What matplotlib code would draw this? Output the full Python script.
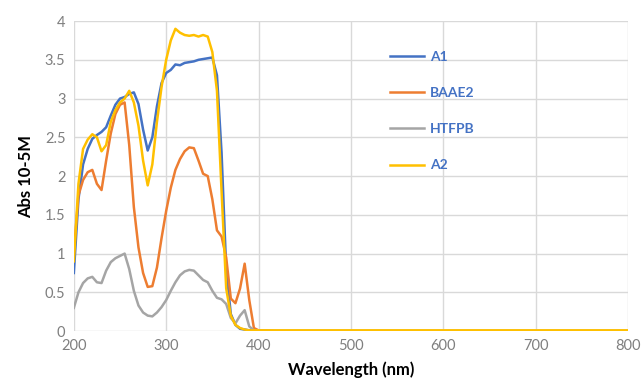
import matplotlib
matplotlib.use("Agg")
import matplotlib.pyplot as plt

plt.rcParams['font.family'] = ['Lato', 'DejaVu Sans']

# wavelength grid (nm)
wl = [200, 205, 210, 215, 220, 225, 230, 235, 240, 245,
      250, 255, 260, 265, 270, 275, 280, 285, 290, 295,
      300, 305, 310, 315, 320, 325, 330, 335, 340, 345,
      350, 355, 360, 365, 370, 375, 380, 385, 390, 395,
      400, 420, 500, 600, 700, 800]

a1 = [0.75, 1.7, 2.15, 2.35, 2.48, 2.53, 2.57, 2.63, 2.78, 2.92,
      3.0, 3.02, 3.06, 3.08, 2.93, 2.6, 2.33, 2.5, 2.9, 3.2,
      3.33, 3.37, 3.44, 3.43, 3.46, 3.47, 3.48, 3.5, 3.51, 3.52,
      3.53, 3.3, 2.3, 0.8, 0.22, 0.08, 0.03, 0.02, 0.01, 0.01,
      0.0, 0.0, 0.0, 0.0, 0.0, 0.0]

baae2 = [1.0, 1.75, 1.95, 2.05, 2.08, 1.9, 1.82, 2.2, 2.55, 2.8,
         2.92, 2.95, 2.4, 1.6, 1.08, 0.75, 0.57, 0.58, 0.82, 1.2,
         1.55, 1.85, 2.08, 2.22, 2.32, 2.37, 2.36, 2.2, 2.03, 2.0,
         1.7, 1.3, 1.22, 0.95, 0.42, 0.36, 0.55, 0.87, 0.4, 0.04,
         0.01, 0.0, 0.0, 0.0, 0.0, 0.0]

htfpb = [0.3, 0.5, 0.62, 0.68, 0.7, 0.63, 0.62, 0.78, 0.89, 0.94,
         0.97, 1.0, 0.8, 0.52, 0.33, 0.24, 0.2, 0.19, 0.24, 0.31,
         0.4, 0.52, 0.63, 0.72, 0.77, 0.79, 0.78, 0.72, 0.66, 0.63,
         0.52, 0.43, 0.41, 0.35, 0.17, 0.1, 0.2, 0.27, 0.06, 0.01,
         0.01, 0.0, 0.0, 0.0, 0.0, 0.0]

a2 = [0.9, 1.9, 2.35, 2.47, 2.54, 2.5, 2.32, 2.4, 2.7, 2.85,
      2.95, 3.0, 3.1, 2.95, 2.65, 2.2, 1.88, 2.15, 2.7, 3.15,
      3.5, 3.75, 3.9, 3.85, 3.82, 3.81, 3.82, 3.8, 3.82, 3.8,
      3.6, 3.1, 1.8, 0.55, 0.2, 0.08, 0.04, 0.02, 0.01, 0.01,
      0.01, 0.01, 0.01, 0.01, 0.01, 0.01]

series = [("A1", a1, "#4472C4"),
          ("BAAE2", baae2, "#ED7D31"),
          ("HTFPB", htfpb, "#A5A5A5"),
          ("A2", a2, "#FFC000")]

yticks = [0, 0.5, 1, 1.5, 2, 2.5, 3, 3.5, 4]
ytick_labels = ["0", "0.5", "1", "1.5", "2", "2.5", "3", "3.5", "4"]
xticks = [200, 300, 400, 500, 600, 700, 800]

fig = plt.figure(figsize=(6.42, 3.9), dpi=100)
ax = fig.add_axes([0.115, 0.151, 0.863, 0.795])

for name, vals, col in series:
    ax.plot(wl, vals, color=col, lw=1.8, label=name, solid_joinstyle="round")

ax.set_xlim(200, 800)
ax.set_ylim(0, 4)
ax.set_xticks(xticks)
ax.set_yticks(yticks)
ax.set_yticklabels(ytick_labels)
ax.grid(True, color="#D9D9D9", lw=1)
ax.set_axisbelow(True)
for s in ax.spines.values():
    s.set_visible(False)
ax.tick_params(length=0, labelsize=10.5, colors="#7F7F7F", pad=6)

ax.set_xlabel("Wavelength (nm)", fontsize=12, fontweight="bold", labelpad=6)
ax.set_ylabel("Abs 10-5M", fontsize=12, fontweight="bold", labelpad=8)

leg = ax.legend(loc="upper left", bbox_to_anchor=(0.57, 0.905), frameon=False,
                handlelength=2.45, handletextpad=0.45, labelspacing=1.75,
                borderpad=0, borderaxespad=0,
                prop={"weight": "bold", "size": 10})
for t in leg.get_texts():
    t.set_color("#4472C4")

fig.savefig("out.png", dpi=100)
